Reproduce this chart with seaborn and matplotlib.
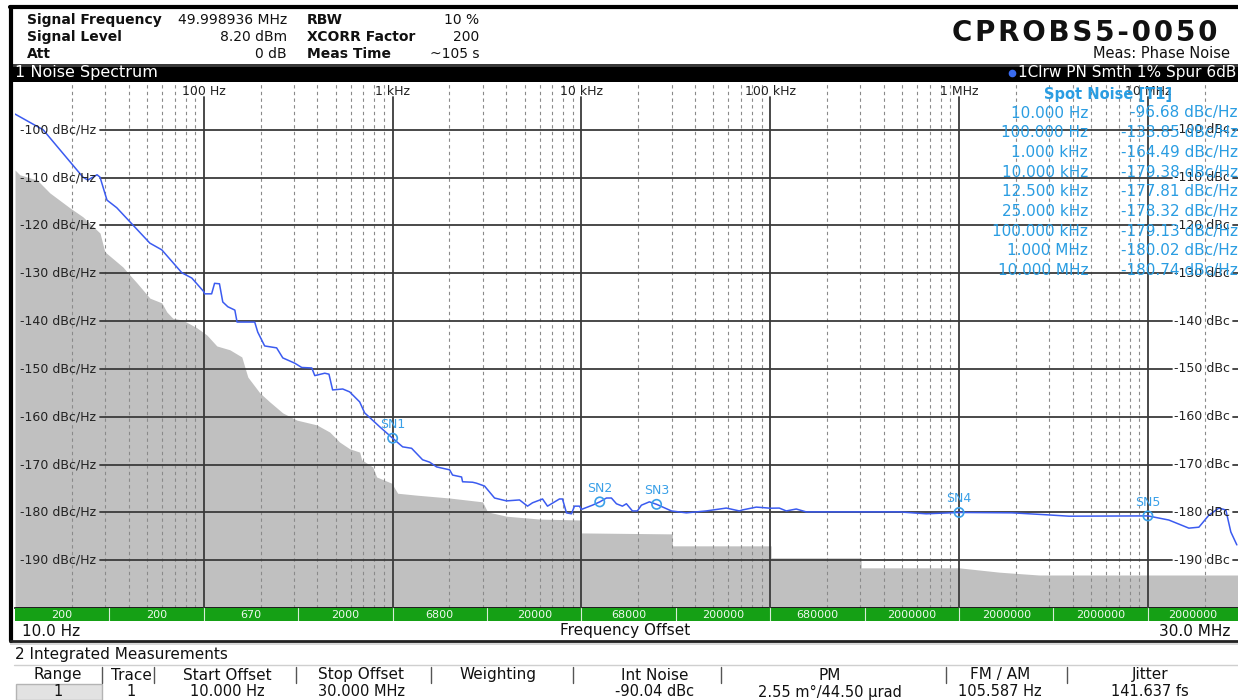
import numpy as np
import pandas as pd
import matplotlib
matplotlib.use('Agg')
import matplotlib.pyplot as plt
import matplotlib.transforms as mtransforms
from matplotlib.patches import Rectangle
import seaborn as sns

sns.set_theme(style="white")
plt.rcParams['font.family'] = ['DejaVu Sans']

# measured phase noise trace (offset Hz, dBc/Hz)
trace_f = [10, 14.1, 22.9, 24.3, 27.2, 28.2, 30.7, 34.6, 42.1, 51.8, 59.9, 76.5, 86.4, 100,
           101, 110, 114, 121, 126, 134, 146, 150, 165, 186, 193, 210, 243, 262, 303, 330,
           373, 387, 437, 460, 481, 544, 592, 669, 711, 854, 1000, 1130, 1260, 1441, 1570,
           1710, 2003, 2077, 2318, 2346, 2651, 2782, 3068, 3465, 4010, 4698, 5180, 5505,
           6220, 6610, 7647, 7934, 8329, 8853, 9183, 9759, 10000, 11430, 12500, 13560,
           14410, 15320, 16480, 17300, 18620, 19780, 20770, 22890, 25000, 29950, 35940,
           45850, 58510, 68550, 71100, 84340, 100000, 111600, 121500, 137300, 155000,
           481500, 669000, 1.0e6, 1.908e6, 2.886e6, 3.82e6, 1.0e7, 1.29e7, 1.648e7,
           1.862e7, 2.103e7, 2.376e7, 2.586e7, 2.749e7, 2.958e7]
trace_db = [-96.7, -100.0, -109.9, -110.5, -109.4, -109.9, -114.7, -116.3, -119.9, -123.7,
            -125.1, -129.9, -131.0, -133.85, -134.3, -134.3, -132.1, -132.2, -136.0, -137.0,
            -137.7, -140.2, -140.2, -140.2, -142.3, -145.2, -145.6, -147.7, -148.8, -149.7,
            -149.8, -151.4, -150.9, -151.1, -154.4, -154.2, -154.8, -156.9, -159.2, -162.1,
            -164.49, -166.3, -166.6, -169.0, -169.5, -170.5, -171.1, -172.2, -172.6, -173.6,
            -173.7, -173.9, -174.5, -177.0, -177.6, -177.4, -178.7, -178.0, -177.2, -178.7,
            -177.2, -177.2, -180.1, -180.3, -178.7, -178.7, -179.38, -178.5, -177.81, -177.0,
            -177.0, -178.2, -178.7, -178.2, -179.7, -179.7, -178.5, -177.8, -178.32, -179.7,
            -180.1, -179.7, -179.1, -179.7, -179.5, -178.9, -179.13, -179.1, -179.7, -179.3,
            -179.9, -179.9, -180.3, -180.02, -180.1, -180.5, -180.8, -180.74, -181.6, -183.3,
            -183.1, -180.6, -179.1, -179.5, -184.1, -186.8]

# cross-correlation noise floor (grey area)
floor_f = [10, 10.6, 13.1, 15.3, 19.5, 22.9, 28.2, 29.9, 37.3, 39.6, 44.2, 51.8, 59.9, 63.7,
           68.5, 77.4, 91.8, 103.7, 117.2, 137.3, 158.9, 171, 197.8, 223.5, 261.8, 310.5,
           396, 464, 524, 592, 669, 685, 784, 823, 988, 1063, 1340, 2003, 2993, 3182, 4010,
           5995, 10000, 10000, 30300, 30300, 101000, 101000, 303000, 303000, 1.0e6,
           1.628e6, 1.908e6, 2.65e6, 3.0e7]
floor_db = [-108.4, -109.4, -110.5, -113.2, -116.3, -118.2, -121.6, -125.5, -128.7, -129.9,
            -132.0, -135.2, -136.2, -138.1, -139.4, -139.8, -141.4, -142.9, -145.2, -146.0,
            -147.5, -151.7, -155.0, -156.9, -159.2, -160.7, -161.7, -163.2, -165.3, -166.7,
            -167.4, -169.0, -170.5, -172.6, -173.9, -176.0, -176.4, -177.0, -177.8, -179.9,
            -180.8, -181.4, -181.6, -184.3, -184.5, -187.0, -187.0, -189.5, -189.5, -191.6,
            -191.6, -192.5, -192.7, -193.1, -193.1]

sn_names = ['SN1', 'SN2', 'SN3', 'SN4', 'SN5']
sn_f = [1e3, 12.5e3, 25e3, 1e6, 1e7]
sn_db = [-164.49, -177.81, -178.32, -180.02, -180.74]

spot_freqs = ['10.000 Hz', '100.000 Hz', '1.000 kHz', '10.000 kHz', '12.500 kHz',
              '25.000 kHz', '100.000 kHz', '1.000 MHz', '10.000 MHz']
spot_vals = ['-96.68 dBc/Hz', '-133.85 dBc/Hz', '-164.49 dBc/Hz', '-179.38 dBc/Hz',
             '-177.81 dBc/Hz', '-178.32 dBc/Hz', '-179.13 dBc/Hz', '-180.02 dBc/Hz',
             '-180.74 dBc/Hz']

y_levels = [-100, -110, -120, -130, -140, -150, -160, -170, -180, -190]
decades = [100, 1e3, 1e4, 1e5, 1e6, 1e7]
decade_labels = ['100 Hz', '1 kHz', '10 kHz', '100 kHz', '1 MHz', '10 MHz']

rbw_edges = [10, 31.6, 100, 316, 1e3, 3.16e3, 1e4, 3.16e4, 1e5, 3.16e5, 1e6, 3.16e6, 1e7, 3e7]
rbw_labels = ['200', '200', '670', '2000', '6800', '20000', '68000', '200000', '680000',
              '2000000', '2000000', '2000000', '2000000']

hdr_labels = ['Signal Frequency', 'Signal Level', 'Att']
hdr_values = ['49.998936 MHz', '8.20 dBm', '0 dB']
hdr_labels2 = ['RBW', 'XCORR Factor', 'Meas Time']
hdr_values2 = ['10 %', '200', '~105 s']

tbl_cols = ['Range', 'Trace', 'Start Offset', 'Stop Offset', 'Weighting', 'Int Noise',
            'PM', 'FM / AM', 'Jitter']
tbl_row = ['1', '1', '10.000 Hz', '30.000 MHz', '', '-90.04 dBc', '2.55 m°/44.50 µrad',
           '105.587 Hz', '141.637 fs']

W, H = 1238, 700
fig = plt.figure(figsize=(W / 100, H / 100), dpi=100)
fig.patch.set_facecolor('white')


def rect(x0, y0, x1, y1):
    return [x0 / W, 1 - y1 / H, (x1 - x0) / W, (y1 - y0) / H]


bg = fig.add_axes([0, 0, 1, 1])
bg.set_xlim(0, W)
bg.set_ylim(H, 0)
bg.axis('off')

# header
for i in range(3):
    y = 20 + i * 17
    bg.text(27, y, hdr_labels[i], fontsize=10, fontweight='semibold', va='center', color='#111')
    bg.text(287, y, hdr_values[i], fontsize=10, ha='right', va='center', color='#111')
    bg.text(307, y, hdr_labels2[i], fontsize=10, fontweight='semibold', va='center', color='#111')
    bg.text(479, y, hdr_values2[i], fontsize=10, ha='right', va='center', color='#111')
bg.text(1218, 33, '\u200a'.join('CPROBS5-0050'), fontsize=20, fontweight='heavy', ha='right',
        va='center', color='#111')
bg.text(1230, 54, 'Meas: Phase Noise', fontsize=10.5, ha='right', va='center', color='#111')

# frame
bg.plot([10, 1238], [7, 7], color='black', lw=3)
bg.plot([11, 11], [7, 641], color='black', lw=3)
bg.add_patch(Rectangle((10, 64), 1228, 18, facecolor='black', edgecolor='none'))
bg.add_patch(Rectangle((10, 64), 1228, 3, facecolor='#3a3a3a', edgecolor='none'))
bg.text(15, 73, '1 Noise Spectrum', fontsize=11.5, color='white', va='center')
bg.text(1236, 73, '1Clrw PN Smth 1% Spur 6dB', fontsize=11, color='white', ha='right',
        va='center')
bg.plot([1012], [73], marker='o', ms=4.5, color='#3a6cf0')

# main plot
ax = fig.add_axes(rect(15, 82, 1238, 608))
ax.set_xscale('log')
ax.fill_between(floor_f, floor_db, -200, color='#c0c0c0', lw=0, zorder=1)
for n in range(1, 8):
    for k in range(2, 10):
        f = k * 10 ** n
        if f < 3e7:
            ax.axvline(f, color='#8a8a8a', lw=0.8, ls=(0, (3, 3)), zorder=2)
for d in decades:
    ax.axvline(d, ymax=0.971, color='#3a3a3a', lw=1.3, zorder=3)
blend_xd = mtransforms.blended_transform_factory(ax.transData, ax.transAxes)
blend_ad = mtransforms.blended_transform_factory(ax.transAxes, ax.transData)
for d, lab in zip(decades, decade_labels):
    ax.text(d, 0.981, lab, transform=blend_xd, fontsize=9, ha='center', va='center',
            color='#222', zorder=6)
for v in y_levels:
    ax.axhline(v, xmin=0.0695, xmax=0.946, color='#3a3a3a', lw=1.3, zorder=3)
    ax.axhline(v, xmin=0.996, xmax=1.0, color='#3a3a3a', lw=1.3, zorder=3)
    ax.text(0.004, v, f'{v} dBc/Hz', transform=blend_ad, fontsize=9, ha='left', va='center',
            color='#222', zorder=6)
    ax.text(0.948, v, f'{v} dBc', transform=blend_ad, fontsize=9, ha='left', va='center',
            color='#222', zorder=6)

df = pd.DataFrame({'f': trace_f, 'db': trace_db})
sns.lineplot(data=df, x='f', y='db', ax=ax, color='#3b5bf0', lw=1.1, sort=False,
             estimator=None, zorder=5)
ax.scatter(sn_f, sn_db, s=45, facecolors='none', edgecolors='#3aa0e8', linewidths=1.2,
           zorder=7)
for name, f, v in zip(sn_names, sn_f, sn_db):
    ax.annotate(name, (f, v), xytext=(0, 10), textcoords='offset points', fontsize=9,
                color='#3aa0e8', ha='center', va='center', zorder=7)
ax.set_xlim(10, 3e7)
ax.set_ylim(-200, -90)
ax.set_xlabel('')
ax.set_ylabel('')
ax.set_xticks([])
ax.set_yticks([])
ax.xaxis.set_minor_locator(matplotlib.ticker.NullLocator())
for s in ['top', 'left', 'right']:
    ax.spines[s].set_visible(False)
ax.spines['bottom'].set_color('black')
ax.spines['bottom'].set_linewidth(1.2)

# RBW bar
g = fig.add_axes(rect(15, 608, 1238, 621))
g.set_xscale('log')
g.set_xlim(10, 3e7)
g.set_ylim(0, 1)
g.set_facecolor('#15a015')
for e in rbw_edges[1:-1]:
    g.axvline(e, color='#d8ecd8', lw=0.8)
for e0, e1, lab in zip(rbw_edges[:-1], rbw_edges[1:], rbw_labels):
    g.text(np.sqrt(e0 * e1), 0.45, lab, fontsize=8, color='#eef8ee', ha='center', va='center')
g.set_xticks([])
g.set_yticks([])
g.xaxis.set_minor_locator(matplotlib.ticker.NullLocator())
for s in g.spines.values():
    s.set_visible(False)

# overlay in pixel coords for the spot noise list
top = fig.add_axes([0, 0, 1, 1])
top.set_xlim(0, W)
top.set_ylim(H, 0)
top.axis('off')
top.patch.set_alpha(0)
spot_col = '#2a9de2'
top.text(1108, 95, 'Spot Noise [T1]', fontsize=10.5, color=spot_col, ha='center', va='center',
         fontweight='bold')
for i in range(len(spot_freqs)):
    y = 113 + i * 19.7
    top.text(1088, y, spot_freqs[i], fontsize=11, color=spot_col, ha='right', va='center')
    top.text(1238, y, spot_vals[i], fontsize=11, color=spot_col, ha='right', va='center')

# axis caption row
bg.text(22, 631, '10.0 Hz', fontsize=11, va='center', color='#111')
bg.text(625, 631, 'Frequency Offset', fontsize=11, ha='center', va='center', color='#111')
bg.text(1230, 631, '30.0 MHz', fontsize=11, ha='right', va='center', color='#111')
bg.plot([10, 1238], [641, 641], color='#222', lw=2)
bg.add_patch(Rectangle((10, 642), 1228, 3, facecolor='#d8d8d8', edgecolor='none'))

# integrated measurements table
bg.text(15, 655, '2 Integrated Measurements', fontsize=11, va='center', color='#111')
col_x = [58, 131, 227, 361, 498, 655, 830, 1000, 1150]
sep_x = [102, 154, 296, 431, 573, 721, 946, 1067]
bg.plot([14, 1238], [665, 665], color='#cfcfcf', lw=1)
for sx in sep_x:
    bg.plot([sx, sx], [667, 683], color='#555', lw=1)
bg.add_patch(Rectangle((16, 684), 86, 16, facecolor='#e2e2e2', edgecolor='#b4b4b4', lw=1))
for cx, hd, val in zip(col_x, tbl_cols, tbl_row):
    bg.text(cx, 675, hd, fontsize=11, ha='center', va='center', color='#111')
    bg.text(cx, 692, val, fontsize=10.5, ha='center', va='center', color='#111')

fig.savefig('out.png', dpi=100)
